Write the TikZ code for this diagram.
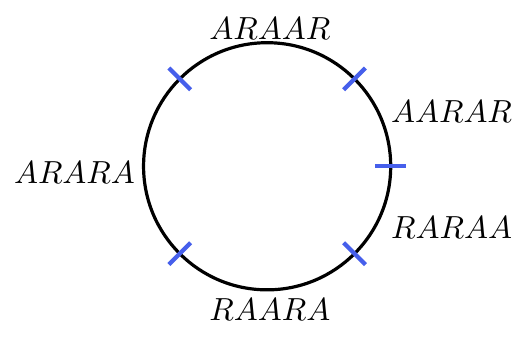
\documentclass[tikz,border=0pt]{standalone}
\usepackage{amsmath,amssymb}
\usepackage{xcolor}
\usepackage{tikz}
\usetikzlibrary{positioning}

\definecolor{tickblue}{RGB}{70,95,235}

\begin{document}
\begin{tikzpicture}[
		ring/.style={line width=1pt, black},
		tickmark/.style={line width=1.3pt, tickblue},
		word/.style={inner sep=0pt}
	]
	\useasboundingbox (-2.94,-1.87) rectangle (2.75,1.83);
	
	\draw[ring] (0,0) circle (1.36);
	
	\foreach \a in {0,45,135,225,315}
		\draw[tickmark] (\a:1.19) -- (\a:1.53);
	
	\node[word] (top) at (0.03,1.52) {$ARAAR$};
	\node[word] (upright) at (2.03,0.60) {$AARAR$};
	\node[word] (left) at (-2.12,-0.07) {$ARARA$};
	\node[word] (lowright) at (2.03,-0.68) {$RARAA$};
	\node[word] (bottom) at (0.03,-1.58) {$RAARA$};
\end{tikzpicture}
\end{document}
